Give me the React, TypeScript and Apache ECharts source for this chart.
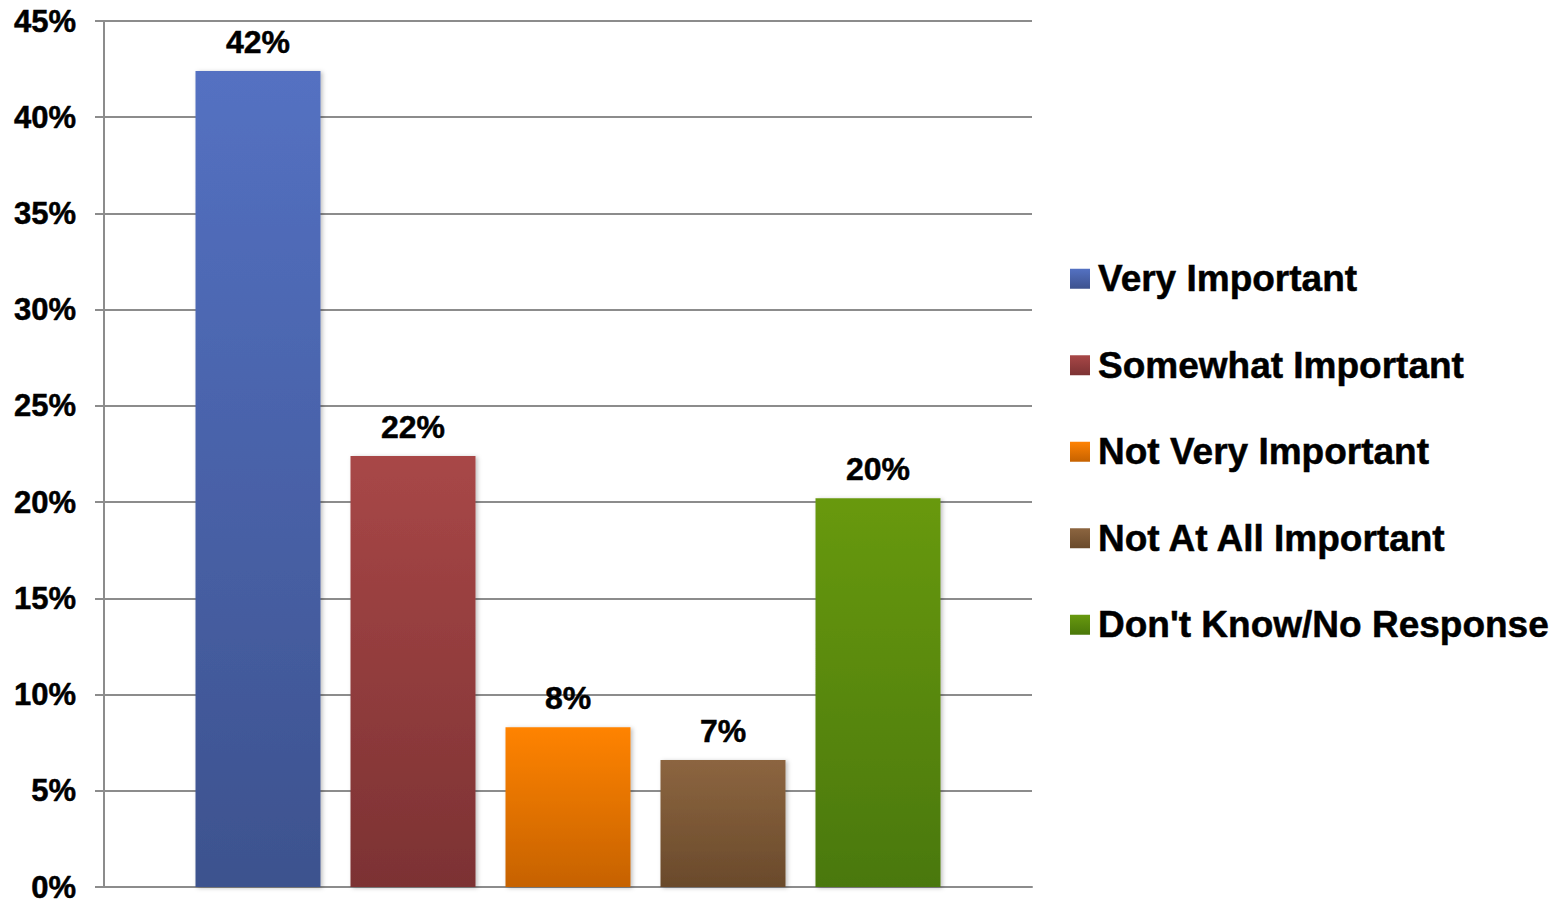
import React, { useEffect, useRef } from "react";
import * as echarts from "echarts";

const categories = [""];
const seriesNames = [
  "Very Important",
  "Somewhat Important",
  "Not Very Important",
  "Not At All Important",
  "Don't Know/No Response",
];
const seriesValues = [42.4, 22.4, 8.3, 6.6, 20.2];
const topColors = ["#5471C2", "#A84747", "#FF8304", "#8C6540", "#68990F"];
const bottomColors = ["#3D528E", "#7C3233", "#C66200", "#6A4A2B", "#4A780A"];
const yTicks = { min: 0, max: 45, interval: 5 };

const FONT = "'Liberation Sans', Arial, sans-serif";
const bold = { textBorderColor: "#000", textBorderWidth: 0.5 };

export default function App() {
  const ref = useRef<HTMLDivElement>(null);

  useEffect(() => {
    if (!ref.current) return;
    const chart = echarts.init(ref.current, undefined, { renderer: "svg" });
    const series = seriesNames.map((name, i) => ({
      name,
      type: "bar",
      data: [seriesValues[i]],
      barWidth: 125,
      barGap: "24%",
      itemStyle: {
        color: new echarts.graphic.LinearGradient(0, 0, 0, 1, [
          { offset: 0, color: topColors[i] },
          { offset: 1, color: bottomColors[i] },
        ]),
        shadowBlur: 4,
        shadowOffsetX: 2,
        shadowOffsetY: 1,
        shadowColor: "rgba(0,0,0,0.25)",
      },
      label: {
        show: true,
        position: "top",
        distance: 13,
        fontFamily: FONT,
        fontWeight: "bold",
        fontSize: 32,
        color: "#000",
        ...bold,
        formatter: (p: any) => Math.round(p.value) + "%",
      },
    }));
    chart.setOption({
      animation: false,
      backgroundColor: "#ffffff",
      grid: { left: 104, right: 536, top: 21, bottom: 16, containLabel: false },
      legend: {
        orient: "vertical",
        left: 1065,
        top: 255,
        itemWidth: 20,
        itemHeight: 20,
        itemGap: 49,
        icon: "rect",
        textStyle: {
          fontFamily: FONT,
          fontWeight: "bold",
          fontSize: 37,
          lineHeight: 37,
          color: "#000",
          ...bold,
          padding: [0, 0, 0, 3],
        },
        data: seriesNames,
      },
      xAxis: {
        type: "category",
        data: categories,
        axisLine: { show: true, lineStyle: { color: "#8c8c8c", width: 2 } },
        axisTick: { show: false },
        axisLabel: { show: false },
      },
      yAxis: {
        type: "value",
        min: yTicks.min,
        max: yTicks.max,
        interval: yTicks.interval,
        axisLine: { show: true, lineStyle: { color: "#8c8c8c", width: 2 } },
        axisTick: { show: true, length: 9, lineStyle: { color: "#8c8c8c", width: 2 } },
        splitLine: { show: true, lineStyle: { color: "#8c8c8c", width: 2 } },
        axisLabel: {
          margin: 28,
          fontFamily: FONT,
          fontWeight: "bold",
          fontSize: 31,
          lineHeight: 26,
          color: "#000",
          ...bold,
          formatter: "{value}%",
        },
      },
      series,
    });
    return () => chart.dispose();
  }, []);

  return (
    <div
      ref={ref}
      style={{ position: "absolute", left: 0, top: 0, width: 1568, height: 903, background: "#fff" }}
    />
  );
}
